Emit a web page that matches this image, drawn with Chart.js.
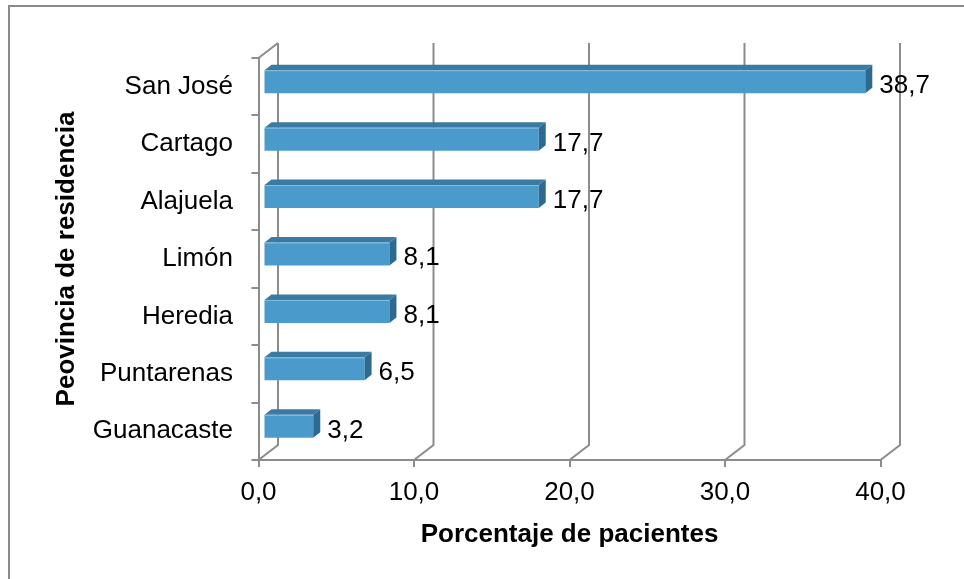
<!DOCTYPE html>
<html>
<head>
<meta charset="utf-8">
<script src="https://cdn.jsdelivr.net/npm/chart.js@4/dist/chart.umd.min.js"></script>
<style>
  html, body { margin: 0; padding: 0; background: #ffffff; }
  canvas { display: block; }
</style>
</head>
<body>
<canvas id="chart" width="964" height="579"></canvas>
<script>
// Provinces of residence, top to bottom
const provincias = ['San José', 'Cartago', 'Alajuela', 'Limón', 'Heredia', 'Puntarenas', 'Guanacaste'];
// Share of patients (%)
const porcentajes = [38.7, 17.7, 17.7, 8.1, 8.1, 6.5, 3.2];
// Value axis ticks
const ticksX = [0, 10, 20, 30, 40];

const FONT = '"Liberation Sans", Arial, sans-serif';
const GRID = '#8c8c8c';
const coma = v => String(v).replace('.', ',');

// Pseudo-3D geometry: back wall offset, bar front plane offset, bar thickness
const WALL = { dx: 19.5, dy: -15 };
const SHIFT = { dx: 5, dy: -5 };
const DEPTH = { dx: 7, dy: -5.5 };

const frame = {
  id: 'frame',
  beforeDraw(chart) {
    const ctx = chart.ctx;
    ctx.save();
    ctx.strokeStyle = '#8a8a8a';
    ctx.lineWidth = 2;
    ctx.strokeRect(9, 6, 1200, 1200);
    ctx.restore();
  }
};

const box3d = {
  id: 'box3d',
  beforeDatasetsDraw(chart) {
    const { ctx, chartArea: a, scales: { x } } = chart;
    ctx.save();
    ctx.strokeStyle = GRID;
    ctx.lineWidth = 2;
    ctx.lineCap = 'butt';
    ctx.beginPath();
    // side wall top edge
    ctx.moveTo(a.left, a.top);
    ctx.lineTo(a.left + WALL.dx, a.top + WALL.dy);
    ticksX.forEach(v => {
      const px = x.getPixelForValue(v);
      // floor edge
      ctx.moveTo(px, a.bottom);
      ctx.lineTo(px + WALL.dx, a.bottom + WALL.dy);
      // back wall gridline
      ctx.lineTo(px + WALL.dx, a.top + WALL.dy);
    });
    ctx.stroke();
    ctx.restore();
    // bars sit slightly behind the front plane
    ctx.save();
    ctx.translate(SHIFT.dx, SHIFT.dy);
  },
  afterDatasetsDraw(chart) {
    const ctx = chart.ctx;
    ctx.restore();
    const meta = chart.getDatasetMeta(0);
    ctx.save();
    meta.data.forEach((bar, i) => {
      const p = bar.getProps(['x', 'y', 'base', 'height'], true);
      const l = p.base + SHIFT.dx;
      const r = p.x + SHIFT.dx;
      const t = p.y - p.height / 2 + SHIFT.dy;
      const b = p.y + p.height / 2 + SHIFT.dy;
      // top face
      ctx.fillStyle = '#3b7aa3';
      ctx.beginPath();
      ctx.moveTo(l, t);
      ctx.lineTo(l + DEPTH.dx, t + DEPTH.dy);
      ctx.lineTo(r + DEPTH.dx, t + DEPTH.dy);
      ctx.lineTo(r, t);
      ctx.closePath();
      ctx.fill();
      // end face
      ctx.fillStyle = '#2e6a90';
      ctx.beginPath();
      ctx.moveTo(r, t);
      ctx.lineTo(r + DEPTH.dx, t + DEPTH.dy);
      ctx.lineTo(r + DEPTH.dx, b + DEPTH.dy);
      ctx.lineTo(r, b);
      ctx.closePath();
      ctx.fill();
      // light edge along the front top
      ctx.strokeStyle = 'rgba(150,200,230,0.8)';
      ctx.lineWidth = 1;
      ctx.beginPath();
      ctx.moveTo(l, t + 0.5);
      ctx.lineTo(r, t + 0.5);
      ctx.stroke();
      // value label
      ctx.fillStyle = '#000000';
      ctx.font = '26px ' + FONT;
      ctx.textAlign = 'left';
      ctx.textBaseline = 'alphabetic';
      ctx.fillText(coma(porcentajes[i]), r + DEPTH.dx + 7, b);
    });
    ctx.restore();
  }
};

new Chart(document.getElementById('chart'), {
  type: 'bar',
  data: {
    labels: provincias,
    datasets: [{
      data: porcentajes,
      backgroundColor: '#4a9bcb',
      borderWidth: 0,
      categoryPercentage: 1,
      barPercentage: 0.4
    }]
  },
  plugins: [frame, box3d],
  options: {
    indexAxis: 'y',
    responsive: false,
    animation: false,
    devicePixelRatio: 1,
    layout: { padding: { top: 58, right: 83.5, left: 0, bottom: 0 } },
    plugins: {
      legend: { display: false },
      tooltip: { enabled: false }
    },
    scales: {
      x: {
        min: 0,
        max: 40,
        afterFit(s) { s.height = 119; },
        afterBuildTicks(s) { s.ticks = ticksX.map(v => ({ value: v })); },
        grid: { drawOnChartArea: false, drawTicks: true, tickLength: 7, color: GRID, lineWidth: 2 },
        border: { display: true, color: GRID, width: 2 },
        ticks: {
          color: '#000000',
          font: { family: FONT, size: 26 },
          padding: 10,
          maxRotation: 0,
          callback: v => v.toFixed(1).replace('.', ',')
        },
        title: {
          display: true,
          text: 'Porcentaje de pacientes',
          color: '#000000',
          font: { family: FONT, size: 26, weight: 'bold' },
          padding: { top: 0, bottom: 29 }
        }
      },
      y: {
        afterFit(s) { s.width = 258.5; },
        grid: { drawOnChartArea: false, drawTicks: true, tickLength: 7, color: GRID, lineWidth: 2, offset: true },
        border: { display: true, color: GRID, width: 2 },
        ticks: {
          color: '#000000',
          font: { family: FONT, size: 26 },
          padding: 18.5
        },
        title: {
          display: true,
          text: 'Peovincia de residencia',
          color: '#000000',
          font: { family: FONT, size: 26, weight: 'bold' },
          padding: { top: 51, bottom: 0 }
        }
      }
    }
  }
});
</script>
</body>
</html>
